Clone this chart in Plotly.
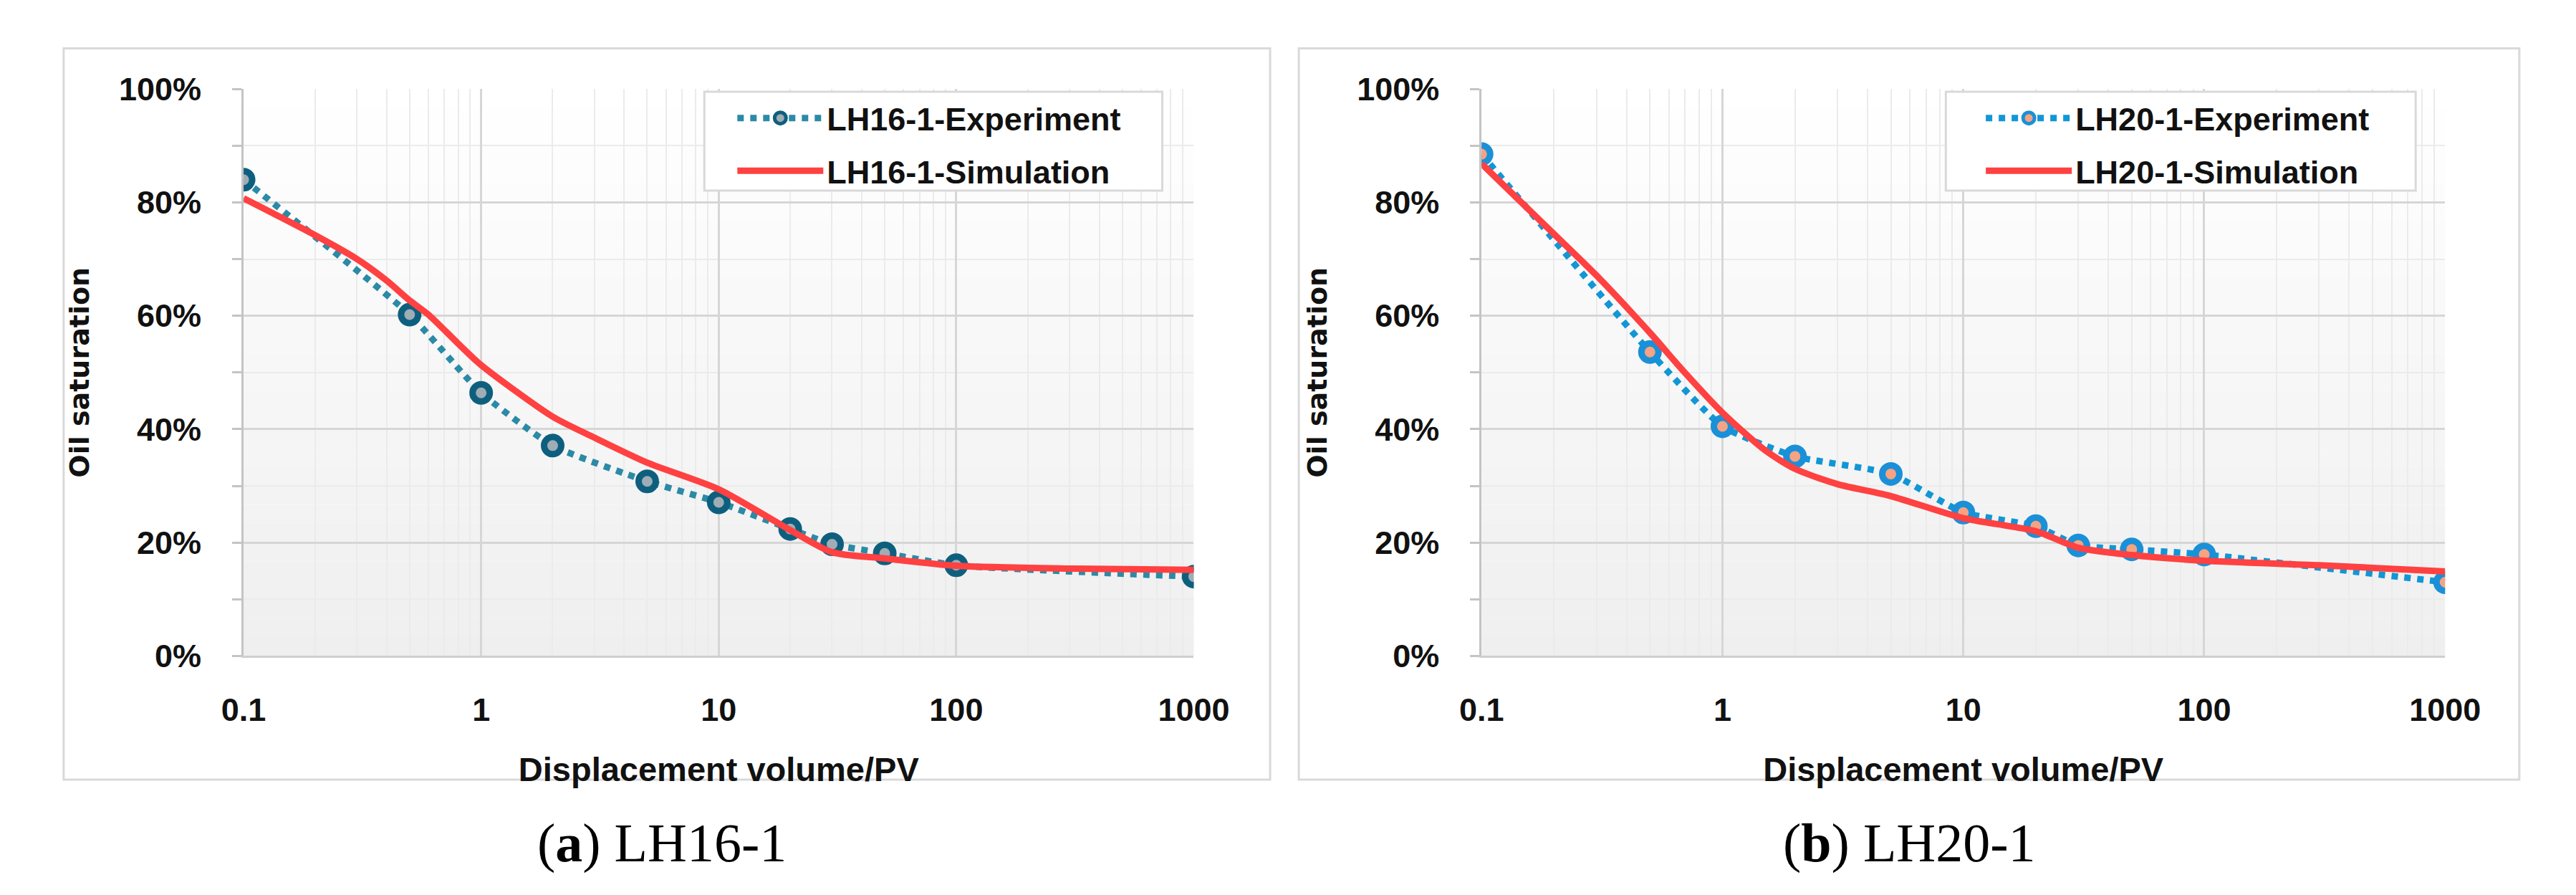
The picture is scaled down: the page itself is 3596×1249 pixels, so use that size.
import plotly.graph_objects as go

# experiment points (displacement volume in PV, oil saturation as fraction)
pv_exp = [0.1, 0.5, 1, 2, 5, 10, 20, 30, 50, 100, 1000]
lh16_exp = [0.840, 0.602, 0.464, 0.371, 0.308, 0.271, 0.224, 0.197, 0.181, 0.160, 0.140]
lh20_exp = [0.885, 0.536, 0.405, 0.352, 0.321, 0.253, 0.229, 0.195, 0.188, 0.179, 0.130]

# simulation curves
pv_sim16 = [0.1, 0.2, 0.3, 0.4, 0.5, 0.6, 0.8, 1, 2, 3, 5, 10, 20, 30, 50, 100, 300, 1000]
lh16_sim = [0.807, 0.742, 0.700, 0.662, 0.627, 0.602, 0.551, 0.513, 0.422, 0.385, 0.341,
            0.294, 0.222, 0.183, 0.172, 0.159, 0.154, 0.152]
pv_sim20 = [0.1, 0.2, 0.3, 0.5, 0.7, 1, 1.5, 2, 3, 5, 10, 20, 30, 50, 100, 300, 1000]
lh20_sim = [0.868, 0.744, 0.671, 0.570, 0.499, 0.429, 0.363, 0.330, 0.303, 0.282,
            0.243, 0.220, 0.191, 0.178, 0.168, 0.160, 0.149]

x_ticks = [0.1, 1, 10, 100, 1000]
x_ticktext = ["0.1", "1", "10", "100", "1000"]
minor_ticks = [m * 10 ** e for e in range(-1, 3) for m in range(2, 10)]

W, H = 3596, 1249
RED = "#ff4141"
SANS = "Liberation Sans, Arial, sans-serif"
TICKFONT = dict(family=SANS, size=45, color="#111111", weight="bold")
LEGFONT = dict(family=SANS, size=45, color="#111111", weight="bold")

fig = go.Figure()

panels = [
    dict(xa="x", ya="y", leg="legend", name="LH16-1", x=pv_exp, y=lh16_exp, xs=pv_sim16, ys=lh16_sim,
         dot="#2b8aa6", ring="#0e5f7e", fill="#9eadb6"),
    dict(xa="x2", ya="y2", leg="legend2", name="LH20-1", x=pv_exp, y=lh20_exp, xs=pv_sim20, ys=lh20_sim,
         dot="#1196d6", ring="#1a90d8", fill="#f5a383"),
]

for p in panels:
    fig.add_trace(go.Scatter(
        x=p["x"], y=p["y"], xaxis=p["xa"], yaxis=p["ya"], legend=p["leg"],
        name=p["name"] + "-Experiment", legendgroup=p["name"] + "e",
        mode="lines+markers", line=dict(color=p["dot"], width=9, dash="dot", shape="spline", smoothing=0.5),
        marker=dict(size=24, color=p["fill"], line=dict(color=p["ring"], width=9)),
        hoverinfo="x+y"))
    fig.add_trace(go.Scatter(
        x=p["xs"], y=p["ys"], xaxis=p["xa"], yaxis=p["ya"], legend=p["leg"],
        name=p["name"] + "-Simulation", legendgroup=p["name"] + "s",
        mode="lines", line=dict(color=RED, width=9, shape="spline", smoothing=0.7),
        hoverinfo="x+y"))

xdom = {"x": [308 / W, 1665 / W], "x2": [2076 / W, 3452 / W]}
ydom = [1 - 920 / H, 1 - 95 / H]

axis_common_x = dict(
    type="log", range=[-1, 3], tickvals=x_ticks, ticktext=x_ticktext, tickfont=TICKFONT,
    showgrid=True, gridcolor="#d6d6d6", gridwidth=3,
    showline=True, linecolor="#cfcfcf", linewidth=3, ticks="", ticklabelstandoff=34,
    minor=dict(tickvals=minor_ticks, showgrid=True, gridcolor="#ebebeb", gridwidth=2, ticks=""),
    title=dict(text="Displacement volume/PV", font=dict(family=SANS, size=47, color="#111111",
               weight="bold"), standoff=42),
    zeroline=False, fixedrange=True)
axis_common_y = dict(
    range=[0, 1], dtick=0.2, tickformat=".0%", tickfont=TICKFONT,
    showgrid=True, gridcolor="#d6d6d6", gridwidth=3,
    showline=True, linecolor="#c4c4c4", linewidth=3,
    ticks="outside", ticklen=13, tickwidth=3, tickcolor="#c4c4c4", ticklabelstandoff=34,
    minor=dict(dtick=0.1, showgrid=True, gridcolor="#ebebeb", gridwidth=2,
               ticks="outside", ticklen=13, tickwidth=3, tickcolor="#c4c4c4"),
    title=dict(text="Oil saturation", font=dict(family="DejaVu Sans, Verdana, sans-serif", size=38,
               color="#111111", weight="bold"), standoff=30),
    zeroline=False, fixedrange=True)

legend_common = dict(xanchor="left", yanchor="top", bgcolor="rgba(0,0,0,0)", borderwidth=0,
                     font=LEGFONT, itemwidth=120, traceorder="grouped", tracegroupgap=12)

fig.update_layout(
    width=W, height=H, margin=dict(l=0, r=0, t=0, b=0),
    paper_bgcolor="white", plot_bgcolor="rgba(0,0,0,0)",
    xaxis=dict(axis_common_x, domain=xdom["x"], anchor="y"),
    yaxis=dict(axis_common_y, domain=ydom, anchor="x"),
    xaxis2=dict(axis_common_x, domain=xdom["x2"], anchor="y2"),
    yaxis2=dict(axis_common_y, domain=ydom, anchor="x2"),
    legend=dict(legend_common, x=1008 / W, y=1 - 100 / H),
    legend2=dict(legend_common, x=2791 / W, y=1 - 100 / H),
    showlegend=True,
)

# soft vertical gradient inside each plot area (white at top, light grey at bottom)
shapes = []
n_bands = 30
for xa, ya in [("x", "y"), ("x2", "y2")]:
    for i in range(n_bands):
        g = int(round(239 + 16 * i / (n_bands - 1)))
        shapes.append(dict(type="rect", xref=xa + " domain", yref=ya + " domain",
                           x0=0, x1=1, y0=i / n_bands, y1=(i + 1) / n_bands,
                           fillcolor=f"rgb({g},{g},{g})", line=dict(width=0), layer="below"))
# outer frames of the two panels
for x0, x1 in [(51, 1774), (1815, 3558)]:
    shapes.append(dict(type="rect", xref="paper", yref="paper", x0=x0 / W, x1=x1 / W,
                       y0=1 - 1100 / H, y1=1 - 36 / H, line=dict(color="#d9d9d9", width=3),
                       fillcolor="rgba(0,0,0,0)", layer="below"))
# legend frames
for x0, x1 in [(966, 1620), (2739, 3410)]:
    shapes.append(dict(type="rect", xref="paper", yref="paper", x0=x0 / W, x1=x1 / W,
                       y0=1 - 243 / H, y1=1 - 99 / H, line=dict(color="#d9d9d9", width=3),
                       fillcolor="white", layer="above"))
fig.update_layout(shapes=shapes)

caption_font = dict(family="Liberation Serif, Times New Roman, serif", size=76, color="black")
fig.add_annotation(text="(<b>a</b>) LH16-1", x=905 / W, y=1 - 1192 / H, xref="paper", yref="paper",
                   showarrow=False, font=caption_font, xanchor="center", yanchor="middle")
fig.add_annotation(text="(<b>b</b>) LH20-1", x=2687 / W, y=1 - 1192 / H, xref="paper", yref="paper",
                   showarrow=False, font=caption_font, xanchor="center", yanchor="middle")

fig.write_html("out.html")
